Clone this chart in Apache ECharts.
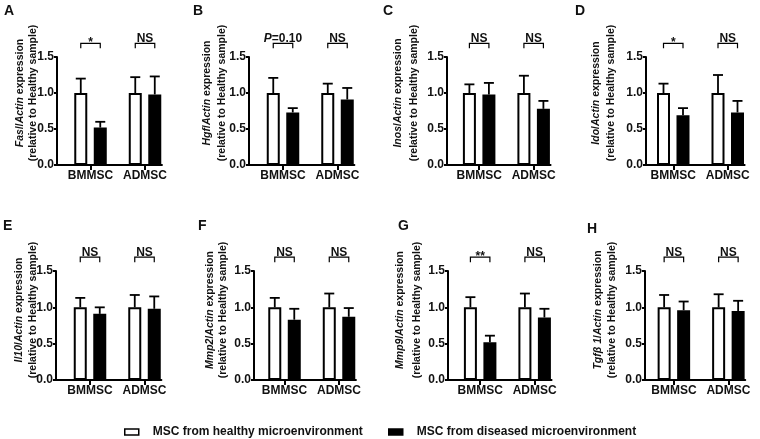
<!DOCTYPE html>
<html><head><meta charset="utf-8">
<script src="https://cdn.jsdelivr.net/npm/echarts@6/dist/echarts.min.js"></script>
<style>html,body{margin:0;padding:0;background:#fff}#c{width:760px;height:439px}</style>
</head><body><div id="c"></div>
<script>
// ---------- data ----------
const categories = ['BMMSC', 'ADMSC'];
const categoryPos = [1, 2];
const panelLetters = ['A', 'B', 'C', 'D', 'E', 'F', 'G', 'H'];
const genes = ['Fasl', 'Hgf', 'Inos', 'Ido', 'Il10', 'Mmp2', 'Mmp9', 'Tgfβ 1'];
const seriesNames = ['MSC from healthy microenvironment', 'MSC from diseased microenvironment'];
const yTicks = [0, 0.5, 1.0, 1.5];
const healthyMean = [[1.0, 1.0], [1.0, 1.0], [1.0, 1.0], [1.0, 1.0], [1.0, 1.0], [1.0, 1.0], [1.0, 1.0], [1.0, 1.0]];
const healthyUpper = [[1.20, 1.22], [1.21, 1.13], [1.12, 1.24], [1.13, 1.25], [1.13, 1.17], [1.13, 1.19], [1.14, 1.19], [1.17, 1.18]];
const diseasedMean = [[0.52, 0.98], [0.73, 0.91], [0.98, 0.78], [0.69, 0.73], [0.91, 0.98], [0.83, 0.87], [0.52, 0.86], [0.96, 0.95]];
const diseasedUpper = [[0.60, 1.23], [0.79, 1.07], [1.14, 0.89], [0.79, 0.89], [1.00, 1.15], [0.98, 0.99], [0.61, 0.98], [1.08, 1.09]];
const sigLabels = [['*', 'NS'], ['P=0.10', 'NS'], ['NS', 'NS'], ['*', 'NS'], ['NS', 'NS'], ['NS', 'NS'], ['**', 'NS'], ['NS', 'NS']];

// ---------- layout (positions / styles only) ----------
const FONT = '"Liberation Sans", Arial, Helvetica, sans-serif';
const INK = '#111';
const layout = [
  { left: 57,  top: 57,  h: 108, xMin: 0.385, t1x: 20,  t2x: 33,  lx: 4,   ly: 4 },
  { left: 249, top: 57,  h: 108, xMin: 0.376, t1x: 207, t2x: 222, lx: 193, ly: 4 },
  { left: 447, top: 57,  h: 108, xMin: 0.41,  t1x: 398, t2x: 414, lx: 383, ly: 4 },
  { left: 646, top: 57,  h: 108, xMin: 0.50,  t1x: 596, t2x: 611, lx: 575, ly: 4 },
  { left: 56,  top: 271, h: 109, xMin: 0.376, t1x: 19,  t2x: 33,  lx: 3,   ly: 219 },
  { left: 254, top: 271, h: 109, xMin: 0.44,  t1x: 210, t2x: 223, lx: 198, ly: 219 },
  { left: 448, top: 271, h: 109, xMin: 0.41,  t1x: 400, t2x: 417, lx: 398, ly: 219 },
  { left: 645, top: 271, h: 109, xMin: 0.47,  t1x: 598, t2x: 612, lx: 587, ly: 222 }
];
const X_MAX = 2.31, PX_PER_UNIT = 54.5;
const BAR_W = 13, BAR_GAP = '50%', HALF = 9.75;
const BRACKET_Y = 1.69, BRACKET_TICK = 1.62;
const titleY = [93, 310];

const grids = [], xAxes = [], yAxes = [], series = [], graphic = [];

function errItem(side) {
  return function (params, api) {
    const x = api.value(0);
    const b = api.coord([x, api.value(1)]);
    const t = api.coord([x, api.value(2)]);
    const cx = b[0] + side * HALF;
    return {
      type: 'group', children: [
        { type: 'line', shape: { x1: cx, y1: b[1], x2: cx, y2: t[1] }, style: { stroke: '#000', lineWidth: 1.8 } },
        { type: 'line', shape: { x1: cx - 5, y1: t[1], x2: cx + 5, y2: t[1] }, style: { stroke: '#000', lineWidth: 1.8 } }
      ]
    };
  };
}
function bracketItem(p) {
  return function (params, api) {
    const x = api.value(0);
    const c = api.coord([x, BRACKET_Y]);
    const t = api.coord([x, BRACKET_TICK]);
    const xl = c[0] - HALF, xr = c[0] + HALF;
    const lab = sigLabels[p][params.dataIndex];
    let txt, dy = 1.5;
    if (lab.indexOf('P=') === 0) txt = '{i|P}{n|' + lab.slice(1) + '}';
    else { txt = '{n|' + lab + '}'; if (lab.indexOf('*') === 0) dy = 5.5; }
    const st = { fontSize: 12, fontWeight: 'bold', fontFamily: FONT, fill: INK };
    return {
      type: 'group', children: [
        { type: 'polyline', shape: { points: [[xl, t[1]], [xl, c[1]], [xr, c[1]], [xr, t[1]]] }, style: { stroke: '#000', lineWidth: 1.2, fill: null } },
        { type: 'text', x: c[0], y: c[1] + dy, style: { text: txt, align: 'center', verticalAlign: 'bottom',
          rich: { n: st, i: Object.assign({}, st, { fontStyle: 'italic' }) } } }
      ]
    };
  };
}

layout.forEach((L, p) => {
  grids.push({ left: L.left, top: L.top, height: L.h, width: (X_MAX - L.xMin) * PX_PER_UNIT, outerBoundsMode: 'none' });
  xAxes.push({
    gridIndex: p, type: 'value', min: L.xMin, max: X_MAX,
    axisLine: { show: true, onZero: false, lineStyle: { color: '#000', width: 2 } },
    axisTick: { show: true, customValues: categoryPos, length: 5, lineStyle: { color: '#000', width: 2 } },
    axisLabel: { customValues: categoryPos, margin: 5, formatter: v => categories[Math.round(v) - 1],
      fontSize: 12, fontWeight: 'bold', fontFamily: FONT, color: INK },
    splitLine: { show: false }
  });
  yAxes.push({
    gridIndex: p, type: 'value', min: yTicks[0], max: yTicks[yTicks.length - 1], interval: yTicks[1] - yTicks[0],
    axisLine: { show: true, onZero: false, lineStyle: { color: '#000', width: 2 } },
    axisTick: { show: true, length: 3, lineStyle: { color: '#000', width: 2 } },
    axisLabel: { margin: 3, formatter: v => v.toFixed(1), fontSize: 12, fontWeight: 'bold', fontFamily: FONT, color: INK },
    splitLine: { show: false }
  });
  series.push({
    name: seriesNames[0], type: 'bar', xAxisIndex: p, yAxisIndex: p, barWidth: BAR_W, barGap: BAR_GAP,
    data: categoryPos.map((c, i) => [c, healthyMean[p][i]]),
    itemStyle: { color: '#fff', borderColor: '#000', borderWidth: 2 }, silent: true
  });
  series.push({
    name: seriesNames[1], type: 'bar', xAxisIndex: p, yAxisIndex: p, barWidth: BAR_W, barGap: BAR_GAP,
    data: categoryPos.map((c, i) => [c, diseasedMean[p][i]]),
    itemStyle: { color: '#000', borderColor: '#000', borderWidth: 2 }, silent: true
  });
  series.push({
    type: 'custom', xAxisIndex: p, yAxisIndex: p, clip: false, silent: true, z: 3,
    data: categoryPos.map((c, i) => [c, healthyMean[p][i], healthyUpper[p][i]]),
    renderItem: errItem(-1)
  });
  series.push({
    type: 'custom', xAxisIndex: p, yAxisIndex: p, clip: false, silent: true, z: 3,
    data: categoryPos.map((c, i) => [c, diseasedMean[p][i], diseasedUpper[p][i]]),
    renderItem: errItem(1)
  });
  series.push({
    type: 'custom', xAxisIndex: p, yAxisIndex: p, clip: false, silent: true, z: 3,
    data: categoryPos.map((c, i) => [c, 0]),
    renderItem: bracketItem(p)
  });
  const ty = titleY[p < 4 ? 0 : 1];
  const tst = { fontSize: 10.5, fontWeight: 'bold', fontFamily: FONT, fill: INK };
  graphic.push({
    type: 'text', x: L.t1x, y: ty, rotation: Math.PI / 2, silent: true,
    style: { text: '{i|' + genes[p] + '}{b|/}{i|Actin}{b| expression}', align: 'center', verticalAlign: 'middle',
      rich: { i: Object.assign({}, tst, { fontStyle: 'italic' }), b: tst } }
  });
  graphic.push({
    type: 'text', x: L.t2x, y: ty, rotation: Math.PI / 2, silent: true,
    style: { text: '(relative to Healthy sample)', align: 'center', verticalAlign: 'middle', font: 'bold 10.5px ' + FONT, fill: INK }
  });
  graphic.push({
    type: 'text', x: L.lx, y: L.ly, silent: true,
    style: { text: panelLetters[p], font: 'bold 14px ' + FONT, fill: INK, align: 'left', verticalAlign: 'top' }
  });
});

const legendCommon = {
  top: 421, icon: 'rect', itemWidth: 14, itemHeight: 6, selectedMode: false,
  itemStyle: { borderColor: '#000', borderWidth: 1.5 },
  textStyle: { fontSize: 12, fontWeight: 'bold', fontFamily: FONT, color: INK, padding: [0, 0, 0, 9] }
};

const chart = echarts.init(document.getElementById('c'), null, { renderer: 'canvas' });
chart.setOption({
  animation: false,
  backgroundColor: '#fff',
  grid: grids, xAxis: xAxes, yAxis: yAxes, series: series, graphic: graphic,
  legend: [
    Object.assign({ left: 119, data: [seriesNames[0]] }, legendCommon),
    Object.assign({ left: 383, data: [seriesNames[1]] }, legendCommon)
  ]
});
</script></body></html>
